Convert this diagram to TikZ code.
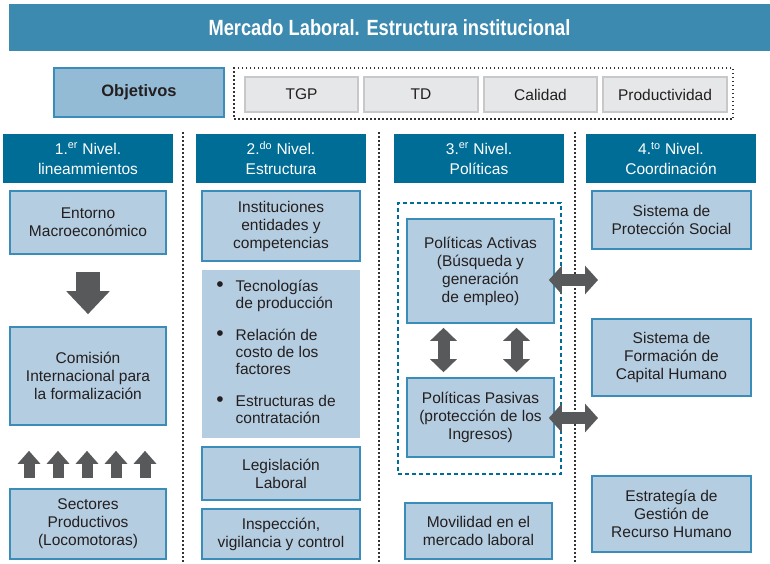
\documentclass[tikz,border=0pt]{standalone}
\usepackage{fontspec}
\setmainfont{Liberation Sans}
\newfontfamily\titulofuente[FakeStretch=0.83]{Liberation Sans}
\usetikzlibrary{arrows.meta}

\definecolor{barra}{RGB}{60,138,176}
\definecolor{cabecera}{RGB}{0,109,150}
\definecolor{fondocaja}{RGB}{181,205,224}
\definecolor{bordecaja}{RGB}{58,140,185}
\definecolor{fondoobj}{RGB}{148,187,214}
\definecolor{fondometa}{RGB}{230,231,232}
\definecolor{bordemeta}{RGB}{199,200,202}
\definecolor{grisflecha}{RGB}{88,89,91}
\definecolor{texto}{RGB}{35,31,32}

\newcommand{\vineta}{{\fontsize{21}{17}\selectfont\textbullet}}

\tikzset{
    caja/.style={draw=bordecaja, fill=fondocaja, line width=1.6pt, inner sep=0pt,
        align=center, text=texto, font={\fontsize{15.5}{18}\selectfont}},
    nivel/.style={fill=cabecera, inner sep=0pt, align=center, text=white,
        minimum width=170pt, minimum height=49pt, font={\fontsize{15.5}{20}\selectfont}},
    meta/.style={draw=bordemeta, fill=fondometa, line width=1.2pt, inner sep=0pt,
        minimum height=35pt, text=texto, font={\fontsize{15.5}{18}\selectfont}},
    punteado/.style={draw=black!80, line width=1.5pt, dash pattern=on 1.5pt off 2.5pt},
    flecha/.style={draw=grisflecha, line width=24pt, -{Triangle[length=23pt,width=42pt]}},
    flechita/.style={draw=grisflecha, line width=11pt, -{Triangle[length=13pt,width=22pt]}},
    doble/.style={draw=grisflecha, line width=12pt,
        {Triangle[length=13pt,width=26pt]}-{Triangle[length=13pt,width=26pt]}},
}

\begin{document}
\begin{tikzpicture}[x=1pt, y=-1pt]
    \useasboundingbox (0,0) rectangle (770,563);

    % 1. Titulo y objetivos
    \node[fill=barra, text=white, minimum width=761pt, minimum height=47pt, inner sep=0pt,
        font={\titulofuente\bfseries\fontsize{22}{24}\selectfont}] (titulo) at (389.5,27.5)
        {Mercado Laboral. Estructura institucional};
    \node[draw=bordecaja, fill=fondoobj, line width=1.6pt, minimum width=170pt, minimum height=49pt,
        inner sep=0pt, text=texto, font={\bfseries\fontsize{16.5}{18}\selectfont}] (objetivos)
        at (139,92.5) {Objetivos};
    \node[punteado, minimum width=499pt, minimum height=51pt] (marco) at (483.5,93.5) {};
    \foreach \nombre/\cx/\ancho/\etiqueta in {tgp/301.5/113/TGP, td/421/114/TD,
        calidad/540.5/113/Calidad, productividad/665/124/Productividad} {
        \node[meta, minimum width=\ancho pt] (\nombre) at (\cx,94.5) {\etiqueta};
    }

    % 2. Separadores y cabeceras de nivel
    \foreach \x in {183,379,575} {
        \draw[punteado] (\x,132) -- (\x,563);
    }
    \node[nivel] (nivel1) at (88,158.5) {1.\textsuperscript{er} Nivel.\\lineammientos};
    \node[nivel] (nivel2) at (281,158.5) {2.\textsuperscript{do} Nivel.\\Estructura};
    \node[nivel] (nivel3) at (479,158.5) {3.\textsuperscript{er} Nivel.\\Políticas};
    \node[nivel] (nivel4) at (671,158.5) {4.\textsuperscript{to} Nivel.\\Coordinación};

    % 3. Primer nivel
    \node[caja, minimum width=156pt, minimum height=63pt] (entorno) at (88,222.5)
        {Entorno\\Macroeconómico};
    \node[caja, minimum width=156pt, minimum height=98pt] (comision) at (88,376)
        {Comisión\\Internacional para\\la formalización};
    \node[caja, minimum width=156pt, minimum height=70pt] (sectores) at (88,524)
        {Sectores\\Productivos\\(Locomotoras)};
    \draw[flecha] ([yshift=-17pt]entorno.south) -- ([yshift=12pt]comision.north);
    \foreach \dx in {-59,-30,-1,28,57} {
        \draw[flechita] ([xshift=\dx pt,yshift=10pt]sectores.north)
            -- ([xshift=\dx pt,yshift=-25pt]comision.south);
    }

    % 4. Segundo nivel
    \node[caja, minimum width=158pt, minimum height=70pt] (instituciones) at (281,226)
        {Instituciones\\entidades y\\competencias};
    \node[fill=fondocaja, inner sep=0pt, minimum width=158pt, minimum height=168pt, text=texto,
        font={\fontsize{15.5}{17}\selectfont}] (factores) at (281,354)
        {\begin{tabular}{@{}l@{\hspace{12pt}}l@{\hspace{10pt}}}
            \vineta & Tecnologías\\
                    & de producción\\[15pt]
            \vineta & Relación de\\
                    & costo de los\\
                    & factores\\[15pt]
            \vineta & Estructuras de\\
                    & contratación
        \end{tabular}};
    \node[caja, minimum width=158pt, minimum height=53pt] (legislacion) at (281,473.5)
        {Legislación\\Laboral};
    \node[caja, minimum width=158pt, minimum height=50pt] (inspeccion) at (281,534)
        {Inspección,\\vigilancia y control};

    % 5. Tercer nivel
    \node[draw=cabecera, line width=2pt, dash pattern=on 4pt off 3pt, minimum width=163pt,
        minimum height=271pt] (politicas) at (479.5,338.5) {};
    \node[caja, minimum width=147pt, minimum height=104pt] (activas) at (480.5,271)
        {Políticas Activas\\(Búsqueda y\\generación\\de empleo)};
    \node[caja, minimum width=147pt, minimum height=79pt] (pasivas) at (480.5,417.5)
        {Políticas Pasivas\\(protección de los\\Ingresos)};
    \node[caja, minimum width=147pt, minimum height=56pt] (movilidad) at (478.5,531)
        {Movilidad en el\\mercado laboral};
    \foreach \dx in {-37,36} {
        \draw[doble] ([xshift=\dx pt,yshift=-4pt]activas.south)
            -- ([xshift=\dx pt,yshift=5pt]pasivas.north);
    }

    % 6. Cuarto nivel
    \node[caja, minimum width=159pt, minimum height=58pt] (proteccion) at (671.5,220)
        {Sistema de\\Protección Social};
    \node[caja, minimum width=159pt, minimum height=77pt] (formacion) at (671.5,357.5)
        {Sistema de\\Formación de\\Capital Humano};
    \node[caja, minimum width=159pt, minimum height=76pt] (estrategia) at (671.5,514)
        {Estrategía de\\Gestión de\\Recurso Humano};
    \coordinate (enlace1) at (598,280);
    \coordinate (enlace2) at (598,418);
    \draw[doble, {Triangle[length=13pt,width=28pt]}-{Triangle[length=13pt,width=28pt]}]
        ([xshift=-6pt,yshift=-9pt]activas.east) -- (enlace1);
    \draw[doble, {Triangle[length=13pt,width=28pt]}-{Triangle[length=13pt,width=28pt]}]
        ([xshift=-6pt,yshift=-0.5pt]pasivas.east) -- (enlace2);
\end{tikzpicture}
\end{document}
